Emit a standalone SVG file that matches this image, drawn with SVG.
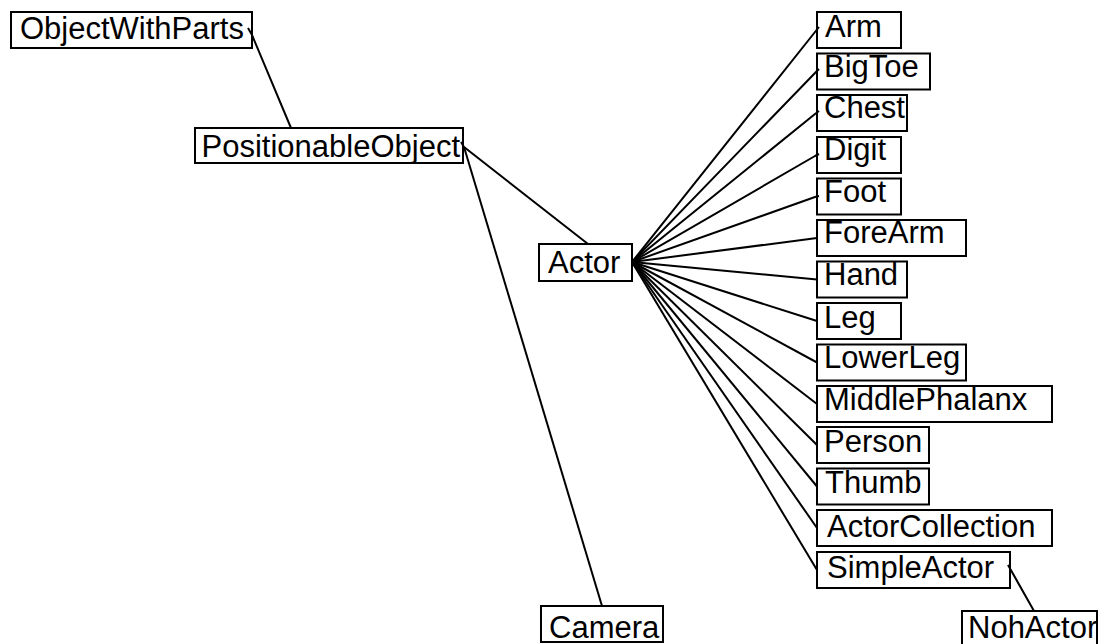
<svg xmlns="http://www.w3.org/2000/svg" width="1108" height="644" viewBox="0 0 1108 644">
  <style>
    .box { fill: #ffffff; stroke: #000000; stroke-width: 2; }
    .lbl { font-family: "Liberation Sans", Arial, sans-serif; font-size: 31px; fill: #000000; }
    .edge { fill: none; stroke: #000000; stroke-width: 2; stroke-linejoin: round; }
  </style>
  <rect width="1108" height="644" fill="#ffffff"/>

  <g id="nodes">
    <g id="ObjectWithParts"><rect class="box" x="11" y="12" width="241" height="36"/><text class="lbl" x="20" y="38.5">ObjectWithParts</text></g>
    <g id="PositionableObject"><rect class="box" x="195" y="128" width="268" height="35"/><text class="lbl" x="201.5" y="156.5">PositionableObject</text></g>
    <g id="Actor"><rect class="box" x="539" y="244" width="93" height="37"/><text class="lbl" x="548" y="273">Actor</text></g>
    <g id="Camera"><rect class="box" x="541" y="606" width="122" height="36"/><text class="lbl" x="549" y="637.5">Camera</text></g>

    <g id="Arm"><rect class="box" x="817" y="12" width="84" height="36"/><text class="lbl" x="825" y="36.7">Arm</text></g>
    <g id="BigToe"><rect class="box" x="817" y="53.5" width="113" height="36"/><text class="lbl" x="824" y="77.3">BigToe</text></g>
    <g id="Chest"><rect class="box" x="817" y="95" width="90" height="36"/><text class="lbl" x="824" y="118.3">Chest</text></g>
    <g id="Digit"><rect class="box" x="817" y="137" width="84" height="36"/><text class="lbl" x="824" y="160">Digit</text></g>
    <g id="Foot"><rect class="box" x="817" y="178.5" width="84" height="36"/><text class="lbl" x="824" y="202.3">Foot</text></g>
    <g id="ForeArm"><rect class="box" x="817" y="220" width="149" height="36"/><text class="lbl" x="824" y="243.3">ForeArm</text></g>
    <g id="Hand"><rect class="box" x="817" y="261.5" width="90" height="36"/><text class="lbl" x="824" y="285">Hand</text></g>
    <g id="Leg"><rect class="box" x="817" y="303" width="84" height="36"/><text class="lbl" x="824" y="328.3">Leg</text></g>
    <g id="LowerLeg"><rect class="box" x="817" y="344.5" width="149" height="36"/><text class="lbl" x="824" y="368.3">LowerLeg</text></g>
    <g id="MiddlePhalanx"><rect class="box" x="817" y="386" width="235" height="36"/><text class="lbl" x="824" y="410">MiddlePhalanx</text></g>
    <g id="Person"><rect class="box" x="817" y="427" width="112" height="36"/><text class="lbl" x="824" y="451.7">Person</text></g>
    <g id="Thumb"><rect class="box" x="817" y="468.5" width="112" height="36"/><text class="lbl" x="825" y="492.7">Thumb</text></g>
    <g id="ActorCollection"><rect class="box" x="817" y="510" width="235" height="36"/><text class="lbl" x="827" y="536.7">ActorCollection</text></g>
    <g id="SimpleActor"><rect class="box" x="817" y="552" width="193" height="36"/><text class="lbl" x="827" y="578.3">SimpleActor</text></g>
    <g id="NohActor"><rect class="box" x="962" y="611" width="135" height="36"/><text class="lbl" x="968" y="637.5">NohActor</text></g>
  </g>

  <g id="connectors">
    <path class="edge" d="M248,28 L252,35 L291,128"/>
    <path class="edge" d="M461,142 L464,147 L588,244"/>
    <path class="edge" d="M464,147 L602,606"/>
    <path class="edge" d="M1008,565 L1012,572 L1034,611"/>

    <path class="edge" d="M632,262 L815,32 L819,27"/>
    <path class="edge" d="M632,262 L815,73 L819,69"/>
    <path class="edge" d="M632,262 L815,114 L819,111"/>
    <path class="edge" d="M632,262 L815,156 L819,154"/>
    <path class="edge" d="M632,262 L815,197 L819,196"/>
    <path class="edge" d="M632,262 L817,238"/>
    <path class="edge" d="M632,262 L817,279.5"/>
    <path class="edge" d="M632,262 L817,321"/>
    <path class="edge" d="M632,262 L817,362.5"/>
    <path class="edge" d="M632,262 L817,404"/>
    <path class="edge" d="M632,262 L817,445"/>
    <path class="edge" d="M632,262 L817,486.5"/>
    <path class="edge" d="M632,262 L817,528"/>
    <path class="edge" d="M632,262 L817,570"/>
  </g>
</svg>
